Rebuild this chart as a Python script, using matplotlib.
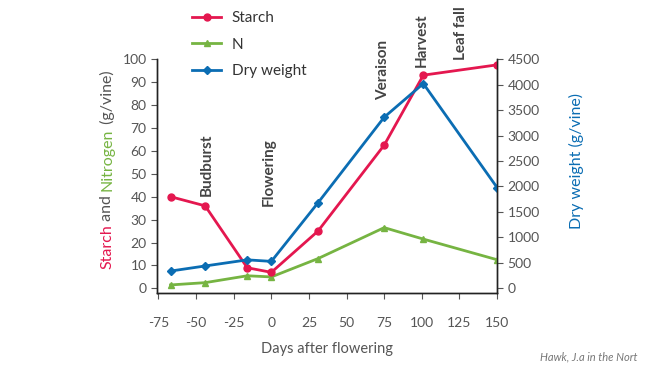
import numpy as np
import matplotlib.pyplot as plt

plt.rcParams['font.family'] = ['Lato', 'DejaVu Sans']
plt.rcParams['axes.unicode_minus'] = False

# data
days = [-67, -44, -16, 0, 31, 75, 101, 150]
starch = [40, 36, 9, 7, 25, 62.5, 93, 97.5]
nitrogen = [1.5, 2.5, 5.5, 5, 13, 26.5, 21.5, 12.5]
dry_weight = [340, 440, 560, 530, 1680, 3360, 4020, 1980]

stages = ['Budburst', 'Flowering', 'Veraison', 'Harvest', 'Leaf fall']
stage_x = [-43, -1.5, 74, 100, 126]
stage_y = [40.5, 36, 82, 96.5, 99.5]

xticks = [-75, -50, -25, 0, 25, 50, 75, 100, 125, 150]

RED = '#e4174f'
GREEN = '#76b442'
BLUE = '#0b6db3'
GREY = '#444444'

fig = plt.figure(figsize=(6.61, 3.79), dpi=100)
ax = fig.add_axes([0.2375, 0.227, 0.5145, 0.617])
ax2 = ax.twinx()

l1, = ax.plot(days, starch, color=RED, lw=2, marker='o', ms=5, zorder=4)
l2, = ax.plot(days, nitrogen, color=GREEN, lw=2, marker='^', ms=5, zorder=3)
l3, = ax2.plot(days, dry_weight, color=BLUE, lw=2, marker='D', ms=4.5, zorder=2)

ax.set_xlim(-76, 150)
ax.set_ylim(-2, 100)
ax2.set_ylim(-90, 4500)
ax.set_xticks(xticks)
ax.set_yticks(range(0, 101, 10))
ax2.set_yticks(range(0, 4501, 500))

for a in (ax, ax2):
    a.spines['top'].set_visible(False)
    for s in a.spines.values():
        s.set_linewidth(1)
        s.set_color('#222222')
    a.tick_params(labelsize=10, colors='#555555', length=4, width=0.8)
ax.tick_params(axis='x', pad=13)
ax.set_xlabel('Days after flowering', fontsize=10.5, color='#555555', labelpad=10)

for name, x, y in zip(stages, stage_x, stage_y):
    ax.text(x, y, name, rotation=90, ha='center', va='bottom',
            fontsize=11, fontweight='bold', color=GREY, clip_on=False)

ax2.set_ylabel('Dry weight (g/vine)', color=BLUE, fontsize=11.5)
ax2.yaxis.set_label_coords(1.21, 0.564)

# multi-coloured left axis label, stacked bottom to top
fig.canvas.draw()
renderer = fig.canvas.get_renderer()
parts = [('Starch', RED), (' and ', '#555555'), ('Nitrogen', GREEN), (' (g/vine)', '#555555')]
texts = []
for s, c in parts:
    texts.append(fig.text(0, 0, s, rotation=90, color=c, fontsize=11.5,
                          ha='center', va='bottom', transform=None))
heights = [t.get_window_extent(renderer).height for t in texts]
total = sum(heights)
cx, cy = 107, 379 - 170
y0 = cy - total / 2
for t, h in zip(texts, heights):
    t.set_position((cx, y0))
    y0 += h

ax.legend([l1, l2, l3], ['Starch', 'N', 'Dry weight'], loc='upper left',
          bbox_to_anchor=(0.085, 1.23), frameon=False, fontsize=11,
          labelcolor='#333333', handlelength=1.9, handletextpad=0.7,
          borderaxespad=0, labelspacing=0.8)

fig.text(0.965, 0.05, 'Hawk, J.a in the Nort', ha='right', fontsize=8,
         style='italic', color='#777777')

fig.savefig('out.png', dpi=100)
